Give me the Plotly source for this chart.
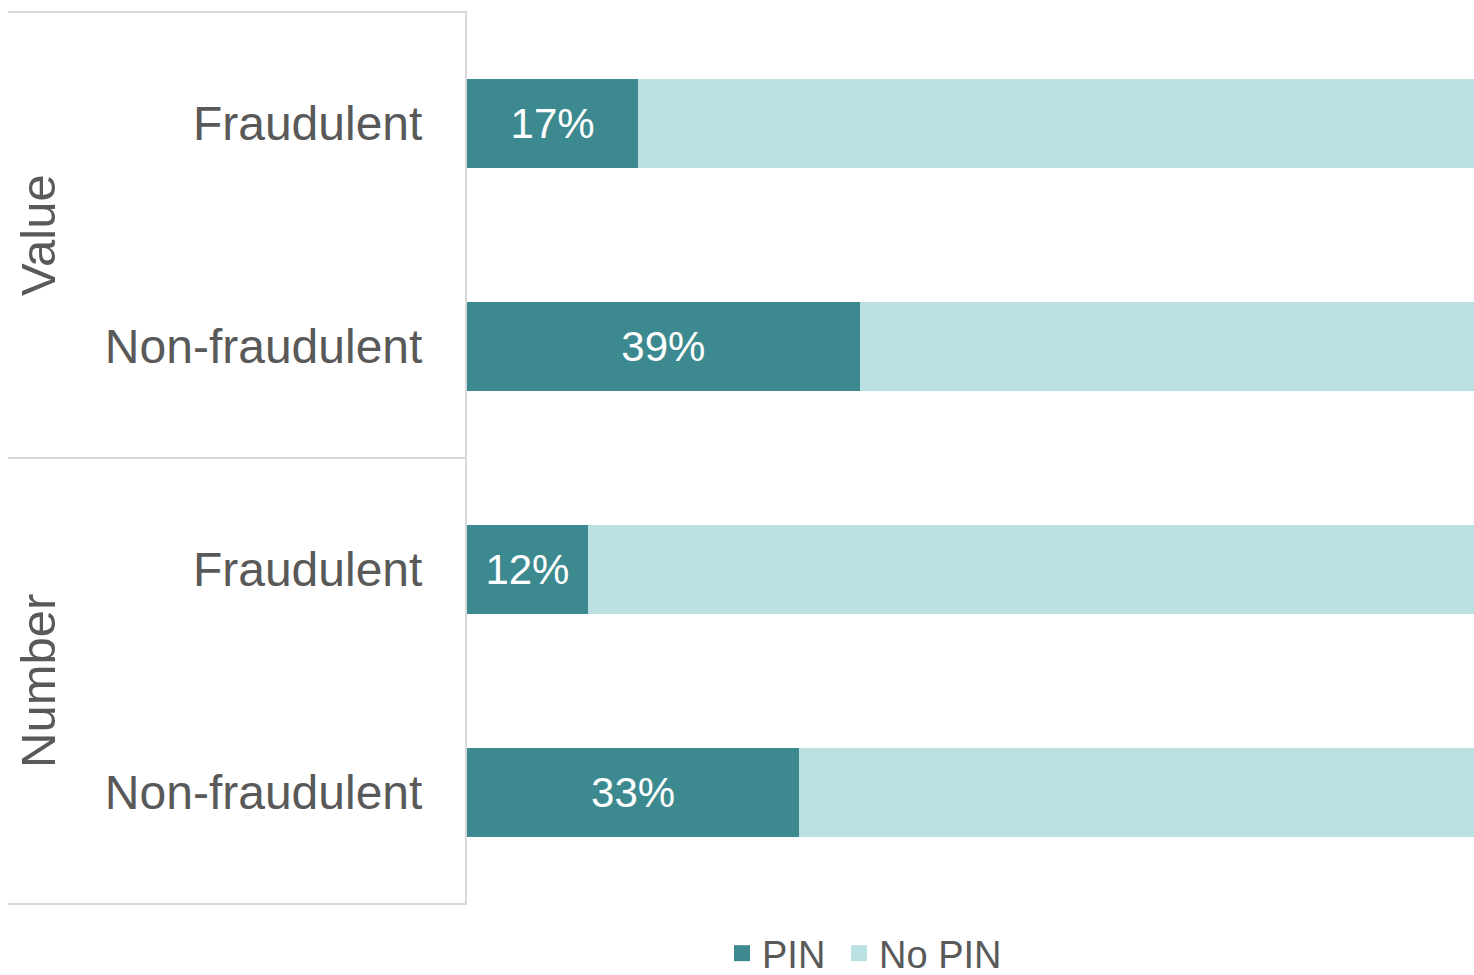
import plotly.graph_objects as go

# Share of transactions with and without PIN, by measure and fraud status
groups = ["Value", "Number"]
categories = ["Fraudulent", "Non-fraudulent", "Fraudulent", "Non-fraudulent"]
pin_share = [17, 39, 12, 33]
no_pin_share = [100 - v for v in pin_share]
series_names = ["PIN", "No PIN"]

positions = list(range(len(categories)))

DARK = "#3C8A8F"
LIGHT = "#BAE0E2"
TEXT = "#595959"
RULE = "#D9D9D9"
FONT = "Liberation Sans, Arial, sans-serif"

fig = go.Figure()
fig.add_trace(go.Bar(
    name=series_names[0], orientation="h", y=positions, x=pin_share,
    marker=dict(color=DARK, line=dict(width=0)), width=0.4,
    text=[f"{v}%" for v in pin_share], textposition="inside",
    insidetextanchor="middle", textangle=0,
    textfont=dict(color="white", size=42, family=FONT),
    showlegend=False,
))
fig.add_trace(go.Bar(
    name=series_names[1], orientation="h", y=positions, x=no_pin_share,
    marker=dict(color=LIGHT, line=dict(width=0)), width=0.4,
    textposition="none", showlegend=False,
))

# Legend entries with larger square swatches, one legend box per series
for name, colour, lg in zip(series_names, [DARK, LIGHT], ["legend", "legend2"]):
    fig.add_trace(go.Scatter(
        name=name, x=[None], y=[None], mode="markers", legend=lg,
        marker=dict(symbol="square", size=19, color=colour),
    ))

W, H = 1474, 975
ml, mr, mt, mb = 467, 0, 12, 71
pw = W - ml - mr

legend_style = dict(
    orientation="h", xref="container", xanchor="left",
    yref="container", y=(H - 922) / H, yanchor="top",
    font=dict(size=38, color=TEXT, family=FONT), itemwidth=30,
    bgcolor="rgba(0,0,0,0)",
)

fig.update_layout(
    width=W, height=H, barmode="stack",
    margin=dict(l=ml, r=mr, t=mt, b=mb, autoexpand=False),
    paper_bgcolor="white", plot_bgcolor="white",
    font=dict(family=FONT, color=TEXT),
    xaxis=dict(range=[0, 100], visible=False, showgrid=False, zeroline=False),
    yaxis=dict(
        range=[3.5, -0.5], tickmode="array", tickvals=positions, ticktext=categories,
        tickfont=dict(size=48, color=TEXT, family=FONT), ticks="",
        ticklabelstandoff=33, showgrid=False, zeroline=False,
        showline=True, linecolor=RULE, linewidth=2,
    ),
    legend=dict(x=722 / W, **legend_style),
    legend2=dict(x=839 / W, **legend_style),
    bargap=0.6,
)

# Divider rules between the measure groups
x_left = (8 - ml) / pw
for yp in [1.0, 0.5, 0.0]:
    fig.add_shape(type="line", xref="paper", yref="paper",
                  x0=x_left, x1=0, y0=yp, y1=yp,
                  line=dict(color=RULE, width=2))

# Group titles, rotated
for name, centre in zip(groups, [0.5, 2.5]):
    fig.add_annotation(
        text=name, xref="paper", yref="y", x=(38 - ml) / pw, y=centre,
        textangle=-90, showarrow=False, xanchor="center", yanchor="middle",
        font=dict(size=49, color=TEXT, family=FONT),
    )

fig.write_html("out.html")
